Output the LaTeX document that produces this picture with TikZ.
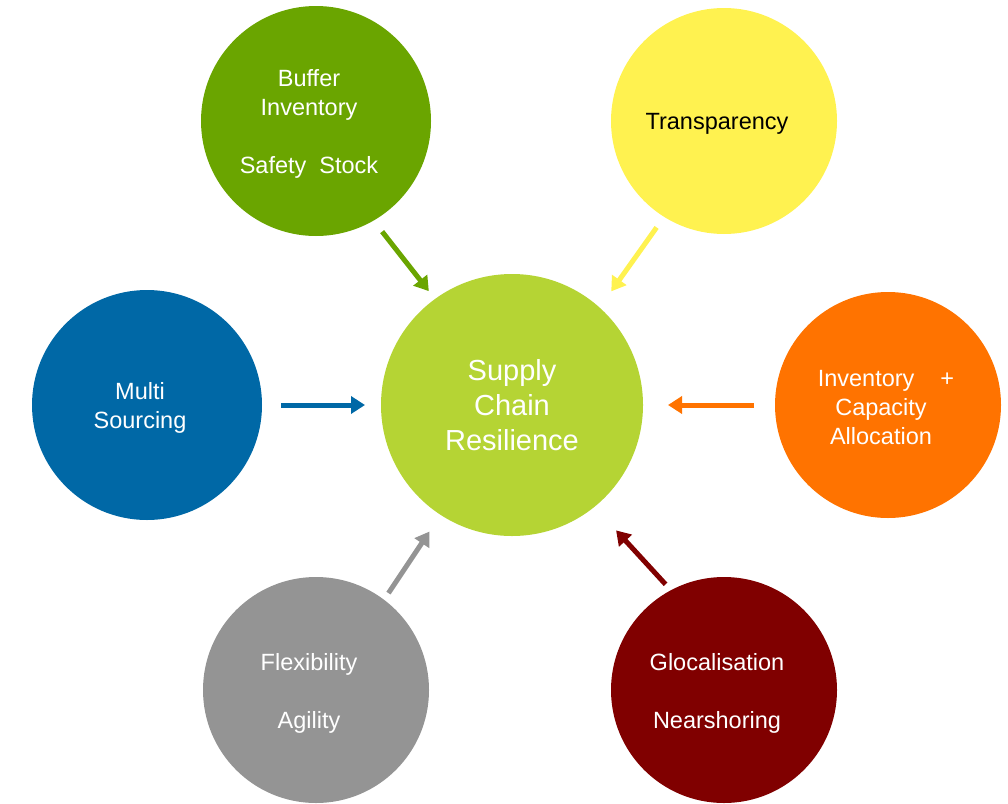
\documentclass[tikz,border=0pt]{standalone}
\usepackage{fontspec}
\setmainfont{Liberation Sans}
\usetikzlibrary{arrows.meta}
\definecolor{cgreen}{RGB}{106,165,0}
\definecolor{cyellow}{RGB}{255,242,80}
\definecolor{clime}{RGB}{181,212,52}
\definecolor{cblue}{RGB}{0,104,166}
\definecolor{corange}{RGB}{255,115,0}
\definecolor{cgray}{RGB}{148,148,148}
\definecolor{cdred}{RGB}{128,0,0}
\begin{document}
\begin{tikzpicture}
      [
        x=1pt, y=-1pt,
        disc/.style={circle,inner sep=0pt,outer sep=0pt,minimum size=226pt},
        txt/.style={text=white,align=center,xshift=-7pt,yshift=-3pt,
          font=\fontsize{23.5}{29}\selectfont},
        arr/.style={line width=5pt,-{Triangle[length=14pt,width=17pt]}}
      ]
      \useasboundingbox (0,0) rectangle (1008,803);
      % centre
      \node [disc,fill=clime,minimum size=262pt] (scr) at (512,405) {};
      \node [txt,xshift=7pt,yshift=3pt,font=\fontsize{29}{35}\selectfont]
        (scr-t) at (scr) {Supply\\Chain\\Resilience};
      % outer circles
      \node [disc,fill=cgreen,minimum size=230pt] (buffer) at (316,121) {};
      \node [txt] (buffer-t) at (buffer) {Buffer\\Inventory\\[29pt]Safety\ \ Stock};
      \node [disc,fill=cyellow] (transp) at (724,121) {};
      \node [txt,text=black] (transp-t) at (transp) {Transparency};
      \node [disc,fill=cblue,minimum size=230pt] (multi) at (147,405) {};
      \node [txt] (multi-t) at (multi) {Multi\\Sourcing};
      \node [disc,fill=corange] (alloc) at (888,405) {};
      \node [txt] (alloc-t) at (alloc)
        {\hspace*{10pt}Inventory\hspace{26pt}+\\Capacity\\Allocation};
      \node [disc,fill=cgray] (flex) at (316,690) {};
      \node [txt] (flex-t) at (flex) {Flexibility\\[29pt]Agility};
      \node [disc,fill=cdred] (gloc) at (724,690) {};
      \node [txt] (gloc-t) at (gloc) {Glocalisation\\[29pt]Nearshoring};
      % arrows
      \draw [arr,cgreen,shorten <=14pt,shorten >=10pt] (buffer.-60) -- (scr.126);
      \draw [arr,cyellow,shorten <=13pt,shorten >=20pt] (transp.-122) -- (scr.48);
      \draw [arr,cblue,shorten <=19pt,shorten >=16pt] (multi.east) -- (scr.west);
      \draw [arr,corange,shorten <=21pt,shorten >=25pt] (alloc.west) -- (scr.east);
      \draw [arr,cgray,shorten <=8pt,shorten >=20pt] (flex.53) -- (scr.-123);
      \draw [arr,cdred,shorten <=8pt,shorten >=32pt] (gloc.118) -- (scr.-51);
    \end{tikzpicture}
\end{document}
